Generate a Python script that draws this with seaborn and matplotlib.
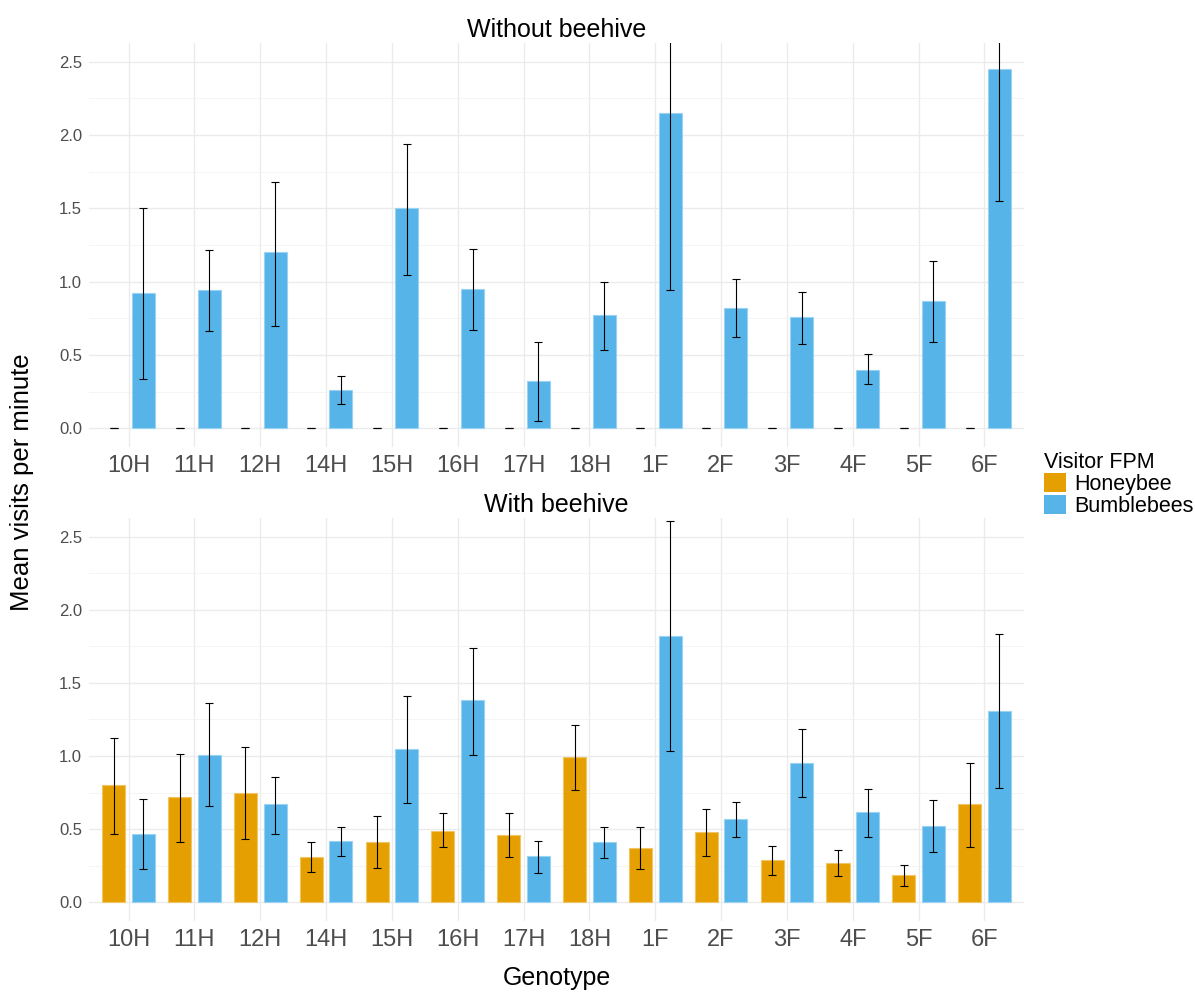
import numpy as np
import pandas as pd
import seaborn as sns
import matplotlib.pyplot as plt
from matplotlib.patches import Patch
import matplotlib.colors as mcolors

# categories
genotypes = ["10H", "11H", "12H", "14H", "15H", "16H", "17H",
             "18H", "1F", "2F", "3F", "4F", "5F", "6F"]
visitors = ["Honeybee", "Bumblebees"]

# Without beehive - honeybees never seen, bumblebees only
no_hive_honey_mean = [0.0] * 14
no_hive_honey_lo = [0.0] * 14
no_hive_honey_hi = [0.0] * 14
no_hive_bumble_mean = [0.92, 0.94, 1.20, 0.26, 1.50, 0.95, 0.32, 0.77, 2.15, 0.82, 0.76, 0.40, 0.87, 2.45]
no_hive_bumble_lo = [0.335, 0.66, 0.70, 0.165, 1.045, 0.67, 0.05, 0.535, 0.945, 0.625, 0.575, 0.305, 0.585, 1.55]
no_hive_bumble_hi = [1.50, 1.215, 1.68, 0.355, 1.94, 1.225, 0.59, 0.995, 3.35, 1.015, 0.93, 0.505, 1.14, 3.35]

# With beehive
hive_honey_mean = [0.80, 0.72, 0.75, 0.31, 0.41, 0.49, 0.46, 0.99, 0.37, 0.48, 0.29, 0.27, 0.185, 0.67]
hive_honey_lo = [0.47, 0.415, 0.435, 0.21, 0.235, 0.38, 0.31, 0.77, 0.225, 0.32, 0.19, 0.18, 0.115, 0.38]
hive_honey_hi = [1.12, 1.015, 1.06, 0.41, 0.59, 0.61, 0.61, 1.215, 0.515, 0.635, 0.385, 0.355, 0.255, 0.95]
hive_bumble_mean = [0.47, 1.01, 0.67, 0.42, 1.05, 1.38, 0.32, 0.41, 1.82, 0.57, 0.955, 0.62, 0.52, 1.31]
hive_bumble_lo = [0.228, 0.66, 0.47, 0.315, 0.677, 1.007, 0.203, 0.303, 1.033, 0.447, 0.722, 0.447, 0.342, 0.784]
hive_bumble_hi = [0.709, 1.365, 0.859, 0.515, 1.413, 1.739, 0.421, 0.515, 2.608, 0.684, 1.183, 0.777, 0.702, 1.837]

palette = {"Honeybee": "#E69F00", "Bumblebees": "#56B4E9"}


def makeFrame(honey_mean, honey_lo, honey_hi, bumble_mean, bumble_lo, bumble_hi):
    # long format table, one row per genotype x visitor
    honey = pd.DataFrame({"Genotype": genotypes, "Visitor": "Honeybee",
                          "mean": honey_mean, "lo": honey_lo, "hi": honey_hi})
    bumble = pd.DataFrame({"Genotype": genotypes, "Visitor": "Bumblebees",
                           "mean": bumble_mean, "lo": bumble_lo, "hi": bumble_hi})
    return pd.concat([honey, bumble], ignore_index=True)


df_no_hive = makeFrame(no_hive_honey_mean, no_hive_honey_lo, no_hive_honey_hi,
                       no_hive_bumble_mean, no_hive_bumble_lo, no_hive_bumble_hi)
df_hive = makeFrame(hive_honey_mean, hive_honey_lo, hive_honey_hi,
                    hive_bumble_mean, hive_bumble_lo, hive_bumble_hi)

sns.set_theme(style="white")
plt.rcParams['font.family'] = ['Liberation Sans', 'DejaVu Sans']

fig = plt.figure(figsize=(11.95, 9.94), dpi=100)
ax_top = fig.add_axes([0.0745, 0.5507, 0.7824, 0.4057])
ax_bot = fig.add_axes([0.0745, 0.0738, 0.7824, 0.4048])

# dodge: slot 0.45 wide, bar 0.35 wide
dodge_width = 0.9
bar_gap = 1 - 0.35 / 0.45


def drawPanel(ax, df, title, title_y):
    sns.barplot(data=df, x="Genotype", y="mean", hue="Visitor",
                order=genotypes, hue_order=visitors, palette=palette,
                saturation=1, width=dodge_width, gap=bar_gap, errorbar=None,
                legend=False, ax=ax, zorder=2)

    # light outline on bars, nothing on the empty ones
    for p in ax.patches:
        fc = np.array(mcolors.to_rgb(p.get_facecolor()))
        p.set_edgecolor(fc * 0.6 + 0.4)
        p.set_linewidth(0.8 if p.get_height() > 0 else 0)

    # error bars, placed at the dodged positions
    x_idx = np.arange(len(genotypes))
    for i, vis in enumerate(visitors):
        sub = df[df["Visitor"] == vis].set_index("Genotype").loc[genotypes]
        offset = (i - 0.5) * dodge_width / 2
        yerr = [sub["mean"] - sub["lo"], sub["hi"] - sub["mean"]]
        ax.errorbar(x_idx + offset, sub["mean"], yerr=yerr, fmt="none",
                    ecolor="black", elinewidth=0.8, capsize=3.2, capthick=0.8,
                    zorder=3)

    ax.set_xlim(-0.6, len(genotypes) - 0.4)
    ax.set_ylim(-0.125, 2.625)
    ax.set_yticks([0, 0.5, 1.0, 1.5, 2.0, 2.5])
    ax.set_yticks([0.25, 0.75, 1.25, 1.75, 2.25], minor=True)
    ax.set_yticklabels(["0.0", "0.5", "1.0", "1.5", "2.0", "2.5"])
    ax.grid(True, which="major", color="#EBEBEB", linewidth=1.0, zorder=0)
    ax.grid(True, which="minor", axis="y", color="#F2F2F2", linewidth=0.6, zorder=0)
    ax.set_axisbelow(True)
    for s in ax.spines.values():
        s.set_visible(False)
    ax.tick_params(axis="x", labelsize=17, colors="#4D4D4D", length=0, pad=6)
    ax.tick_params(axis="y", labelsize=12, colors="#4D4D4D", length=0, pad=5)
    ax.tick_params(which="minor", length=0)
    ax.set_xlabel("")
    ax.set_ylabel("")
    fig.text(0.4657, title_y, title, ha="center", va="baseline",
             fontsize=18, color="black")


drawPanel(ax_top, df_no_hive, "Without beehive", 0.963)
drawPanel(ax_bot, df_hive, "With beehive", 0.4852)

# shared axis titles
fig.text(0.4657, 0.016, "Genotype", ha="center", va="center",
         fontsize=18, color="black")
fig.text(0.0185, 0.5154, "Mean visits per minute", ha="center", va="center",
         rotation=90, fontsize=18.5, color="black")

# legend in between the panels on the right
handles = [Patch(facecolor=palette[v], edgecolor="none") for v in visitors]
leg = fig.legend(handles, visitors, title="Visitor FPM", loc="upper left",
                 bbox_to_anchor=(0.874, 1 - 452 / 994), frameon=False,
                 fontsize=15.5, title_fontsize=15.5, alignment="left",
                 handlelength=1.0, handleheight=1.0, handletextpad=0.4,
                 labelspacing=0.0, borderpad=0, borderaxespad=0)
for t in leg.get_texts():
    t.set_color("black")
leg.get_title().set_color("black")

fig.savefig("out.png", dpi=100)
